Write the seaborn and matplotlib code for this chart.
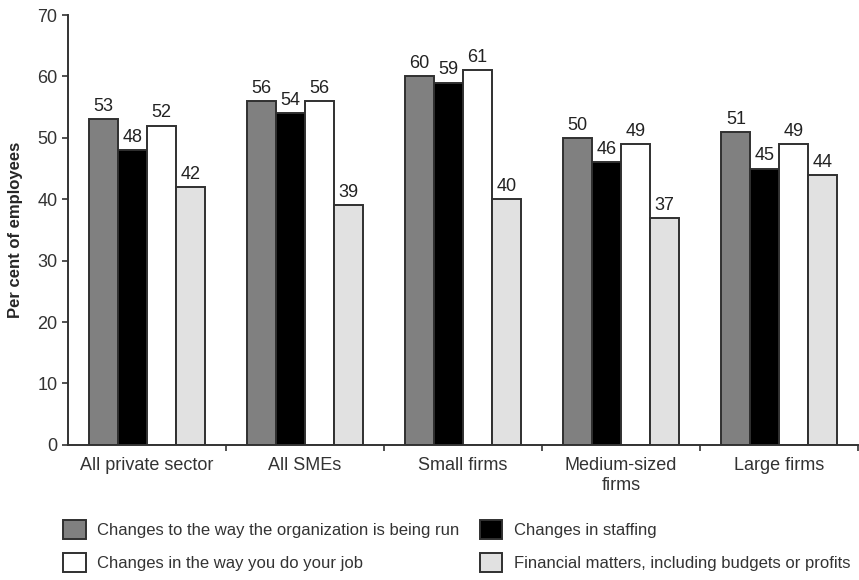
import pandas as pd
import matplotlib.pyplot as plt
import seaborn as sns
from matplotlib.patches import Patch

# Data
categories = ["All private sector", "All SMEs", "Small firms", "Medium-sized\nfirms", "Large firms"]
series = ["Changes to the way the organization is being run",
          "Changes in staffing",
          "Changes in the way you do your job",
          "Financial matters, including budgets or profits"]
run_org = [53, 56, 60, 50, 51]
staffing = [48, 54, 59, 46, 45]
own_job = [52, 56, 61, 49, 49]
financial = [42, 39, 40, 37, 44]
colors = ["#808080", "#000000", "#ffffff", "#e1e1e1"]

rows = []
for s, vals in zip(series, [run_org, staffing, own_job, financial]):
    for c, v in zip(categories, vals):
        rows.append({"category": c, "series": s, "value": v})
df = pd.DataFrame(rows)

sns.set_style("ticks")
plt.rcParams["font.family"] = ["Liberation Sans", "DejaVu Sans"]

fig = plt.figure(figsize=(8.59, 5.80), dpi=100)
ax = fig.add_axes([0.079, 0.233, 0.92, 0.741])
sns.barplot(data=df, x="category", y="value", hue="series", palette=colors,
            width=0.73, edgecolor="#303030", linewidth=1.4, saturation=1,
            legend=False, ax=ax)

for cont in ax.containers:
    ax.bar_label(cont, padding=3, fontsize=13, color="#222222")

ax.set_ylim(0, 70)
ax.set_xlim(-0.5, 4.5)
ax.set_yticks(range(0, 71, 10))
ax.set_xlabel("")
ax.set_ylabel("Per cent of employees", fontsize=12, fontweight="bold", labelpad=10)
ax.tick_params(axis="y", labelsize=13, length=4, width=1.2, color="#333333", labelcolor="#333333")
ax.tick_params(axis="x", which="major", length=0, labelsize=13, labelcolor="#333333", pad=9)
ax.set_xticks([0.5, 1.5, 2.5, 3.5, 4.5], minor=True)
ax.tick_params(axis="x", which="minor", length=4, width=1.2, color="#333333")
sns.despine(ax=ax)
for sp in ["left", "bottom"]:
    ax.spines[sp].set_linewidth(1.4)
    ax.spines[sp].set_color("#333333")

handles = [Patch(facecolor=colors[i], edgecolor="#303030", linewidth=1.4) for i in [0, 2, 1, 3]]
labels = [series[i] for i in [0, 2, 1, 3]]
fig.legend(handles, labels, ncol=2, loc="lower left", bbox_to_anchor=(0.056, -0.012),
           frameon=False, fontsize=12, handlelength=1.35, handleheight=1.35,
           columnspacing=1.2, labelspacing=0.85, handletextpad=0.7,
           labelcolor="#333333")

fig.savefig("out.png", dpi=100)
